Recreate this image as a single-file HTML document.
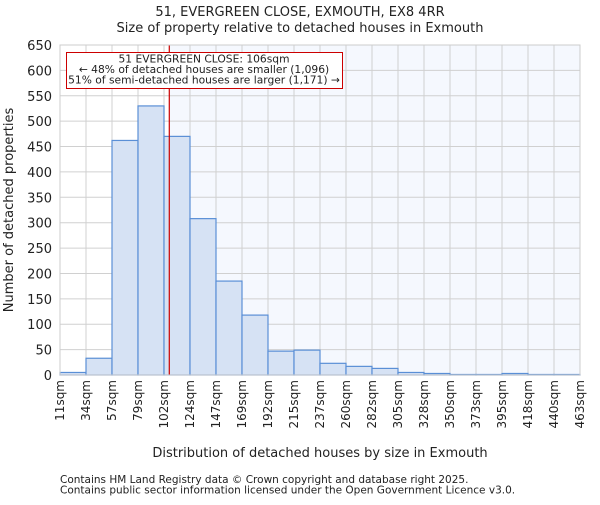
<!DOCTYPE html>
<html><head><meta charset="utf-8"><style>body{margin:0;background:#fff}svg text{font-family:"DejaVu Sans","Liberation Sans",sans-serif;fill:#222}</style></head>
<body>
<svg id="c" width="600" height="500"></svg>
<script>
const categories=["11sqm","34sqm","57sqm","79sqm","102sqm","124sqm","147sqm","169sqm","192sqm","215sqm","237sqm","260sqm","282sqm","305sqm","328sqm","350sqm","373sqm","395sqm","418sqm","440sqm","463sqm"];
const values=[5,33,462,530,470,308,185,118,47,49,23,17,13,5,3,1,1,3,1,1];
const yTicks=[0,50,100,150,200,250,300,350,400,450,500,550,600,650];
const propertySize=106;
const binStart=11, binWidth=22.6;
const NS="http://www.w3.org/2000/svg";
const svg=document.getElementById('c');
const L=60,R=580,T=45,B=375;
const y=v=>B-(v/650)*(B-T);
const xi=i=>L+i*(R-L)/values.length;
const xv=s=>L+(s-binStart)/binWidth*(R-L)/values.length;
function el(t,a,p){const e=document.createElementNS(NS,t);for(const k in a)e.setAttribute(k,a[k]);(p||svg).appendChild(e);return e;}
const px=xv(propertySize);
let e=el('rect',{x:L,y:T,width:R-L,height:B-T,fill:'#f5f8fe'});

e=el('rect',{x:L,y:T,width:px-L,height:B-T,fill:'#ffffff'});

yTicks.forEach(v=>{const g=el('line',{x1:L,x2:R,y1:y(v),y2:y(v),stroke:'#d0d0d0'});

const t=el('text',{x:L-8,y:y(v)+5,'text-anchor':'end','font-size':13});t.textContent=v;
});
categories.forEach((c,i)=>{const g=el('line',{x1:xi(i),x2:xi(i),y1:T,y2:B,stroke:'#d0d0d0'});

const t=el('text',{x:0,y:0,'text-anchor':'end','font-size':12,transform:`translate(${xi(i)+4},380) rotate(-90)`});t.textContent=c;
});
values.forEach((v,i)=>{const b=el('rect',{x:xi(i),y:y(v),width:xi(i+1)-xi(i),height:B-y(v),fill:'#d6e2f4',stroke:'#5a8fd6','stroke-width':1.2});
});
e=el('line',{x1:px,x2:px,y1:T,y2:B,stroke:'#cc0000','stroke-width':1.2});

e=el('rect',{x:66.5,y:52.5,width:276,height:36,fill:'#fff',stroke:'#cc0000','stroke-width':1});

["51 EVERGREEN CLOSE: 106sqm","← 48% of detached houses are smaller (1,096)","51% of semi-detached houses are larger (1,171) →"].forEach((s,k)=>{
const t=el('text',{x:204,y:62.5+k*10.5,'text-anchor':'middle','font-size':10.7});t.textContent=s;
});
e=el('rect',{x:L,y:T,width:R-L,height:B-T,fill:'none',stroke:'#cccccc'});

[[300,16,13,"51, EVERGREEN CLOSE, EXMOUTH, EX8 4RR","chart-title"],[300,32,13,"Size of property relative to detached houses in Exmouth","chart-subtitle"],[320,457,13,"Distribution of detached houses by size in Exmouth","x-axis-title"]].forEach(a=>{
const t=el('text',{x:a[0],y:a[1],'text-anchor':'middle','font-size':a[2]});t.textContent=a[3];
});
e=el('text',{x:0,y:0,'text-anchor':'middle','font-size':13,transform:'translate(13,210) rotate(-90)'});e.textContent="Number of detached properties";

["Contains HM Land Registry data © Crown copyright and database right 2025.","Contains public sector information licensed under the Open Government Licence v3.0."].forEach((s,k)=>{
const t=el('text',{x:60,y:483+k*10.5,'font-size':10.5,fill:'#444'});t.textContent=s;
});
</script>
</body></html>
